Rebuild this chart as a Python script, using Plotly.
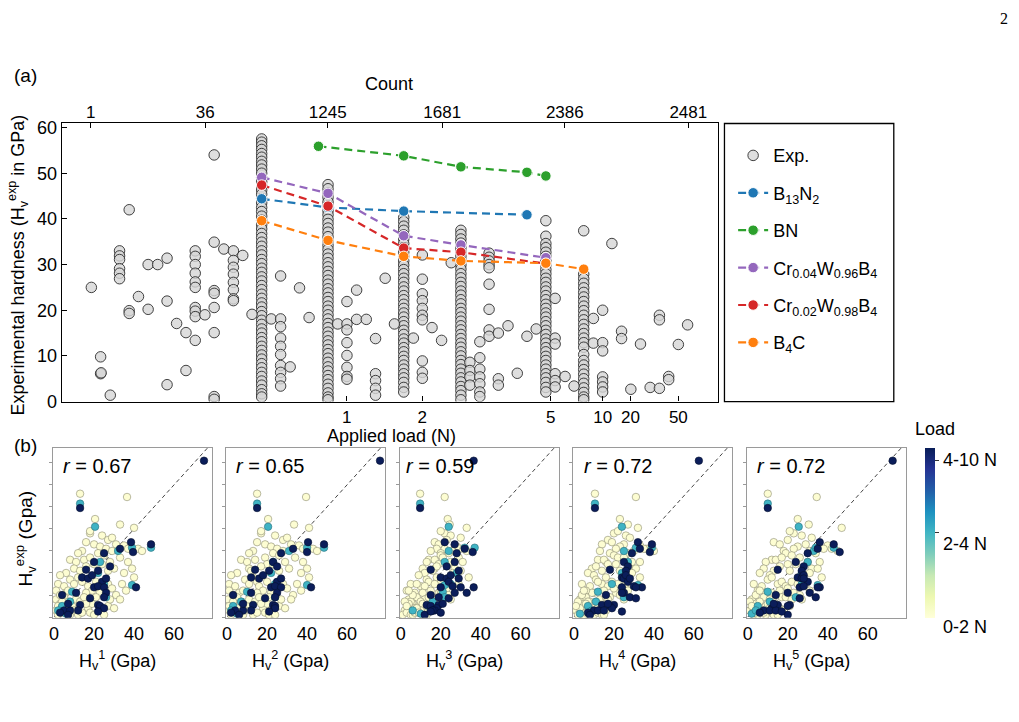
import plotly.graph_objects as go

W, H = 1019, 722
FONT = "Liberation Sans, Arial, Helvetica, sans-serif"


def fx(p):
    return p / W


def fy(p):
    return 1 - p / H


# ======================= (a) data =======================
# position along the rank-scaled applied-load axis
load_tick_pos = [2.86, 3.62, 4.91, 5.43, 5.71, 6.19]
load_tick_text = ["1", "2", "5", "10", "20", "50"]
count_tick_pos = [0.29, 1.44, 2.67, 3.82, 5.05, 6.29]
count_tick_text = ["1", "36", "1245", "1681", "2386", "2481"]

# densely populated load values (columns)
col_pos = [2.007, 2.673, 3.433, 4.007, 4.86, 5.24]
col1_hv = [57.5, 56.8, 56.0, 55.2, 54.3, 53.5, 52.6, 51.8, 50.9, 50.0, 49.0, 48.1, 47.2, 46.3,
           45.4, 44.4, 43.5, 42.5, 41.6, 40.6, 39.7, 38.7, 37.8, 36.8, 35.9, 34.9, 34.0, 33.0,
           32.1, 31.1, 30.2, 29.2, 28.3, 27.3, 26.4, 25.4, 24.5, 23.5, 22.6, 21.6, 20.7, 19.7,
           18.8, 17.8, 16.9, 15.9, 15.0, 14.0, 13.1, 12.1, 11.2, 10.2, 9.3, 8.3, 7.4, 6.4, 5.5,
           4.5, 3.6, 2.6, 1.7, 1.0]
col2_hv = [47.5, 46.6, 45.6, 44.7, 43.7, 42.8, 41.8, 40.9, 39.9, 39.0, 38.0, 37.1, 36.1, 35.2,
           34.2, 33.3, 32.3, 31.4, 30.4, 29.5, 28.5, 27.6, 26.6, 25.7, 24.7, 23.8, 22.8, 21.9,
           20.9, 20.0, 19.0, 18.1, 17.1, 16.2, 15.2, 14.3, 13.3, 12.4, 11.4, 10.5, 9.5, 8.6, 7.6,
           6.7, 5.7, 4.8, 3.8, 2.9, 1.9, 1.0, 0.4]
col3_hv = [40.3, 39.4, 38.4, 37.5, 36.5, 35.6, 34.6, 33.7, 32.7, 31.8, 30.8, 29.9, 28.9, 28.0,
           27.0, 26.1, 25.1, 24.2, 23.2, 22.3, 21.3, 20.4, 19.4, 18.5, 17.5, 16.6, 15.6, 14.7,
           13.7, 12.8, 11.8, 10.9, 9.9, 9.0, 8.0, 7.1, 6.1, 5.2, 4.2, 3.1, 2.1]
col4_hv = [37.5, 36.6, 35.6, 34.7, 33.7, 32.8, 31.8, 30.9, 29.9, 29.0, 28.0, 27.1, 26.1, 25.2,
           24.2, 23.3, 22.3, 21.4, 20.4, 19.5, 18.5, 17.6, 16.6, 15.7, 14.7, 13.8, 12.8, 11.9,
           10.9, 10.0, 9.0, 8.1, 7.1, 6.2, 5.2, 4.3, 3.3, 2.4, 1.4, 0.4]
col5_hv = [39.6, 36.2, 34.6, 33.7, 32.7, 31.8, 30.8, 29.9, 28.9, 28.0, 27.0, 26.1, 25.1, 24.2,
           23.2, 22.3, 21.3, 20.4, 19.4, 18.5, 17.5, 16.6, 15.6, 14.7, 13.7, 12.8, 11.8, 10.9,
           9.9, 9.0, 8.0, 7.1, 6.1, 5.2, 4.2, 3.1, 2.1]
col6_hv = [37.4, 27.9, 26.9, 25.9, 24.9, 23.9, 22.9, 21.9, 20.9, 19.9, 18.9, 17.9, 16.9, 15.9,
           14.9, 13.9, 12.9, 11.9, 10.3, 9.0, 8.0, 7.0, 6.0, 5.0, 4.0, 3.0, 2.0, 1.0, 0.4]

# sparsely populated load values
sparse_pos = [0.297, 0.39, 0.39, 0.395, 0.487,
              0.58, 0.58, 0.58, 0.58, 0.58, 0.58,
              0.677, 0.677, 0.677,
              0.77, 0.867, 0.867, 0.963,
              1.057, 1.057, 1.057,
              1.153, 1.247, 1.247,
              1.34, 1.34, 1.34, 1.34, 1.34, 1.34, 1.34, 1.34, 1.34, 1.34,
              1.437,
              1.53, 1.53, 1.53, 1.53, 1.53, 1.53, 1.53, 1.53,
              1.627,
              1.723, 1.723, 1.723, 1.723, 1.723, 1.723, 1.723, 1.723,
              1.817, 1.91,
              2.103, 2.197, 2.197, 2.197, 2.197, 2.197, 2.197, 2.197, 2.197, 2.197, 2.197,
              2.293, 2.387, 2.483,
              2.77, 2.863, 2.863, 2.863, 2.863, 2.863, 2.863, 2.863, 2.863,
              2.96, 2.96, 3.057, 3.15, 3.15, 3.15, 3.15, 3.15,
              3.247, 3.34,
              3.53, 3.62, 3.62, 3.62, 3.62, 3.62, 3.62, 3.62, 3.62, 3.62, 3.62,
              3.717, 3.813, 3.91,
              4.097, 4.097, 4.097, 4.097,
              4.197, 4.197, 4.197, 4.197, 4.197, 4.197, 4.197,
              4.29, 4.29, 4.29, 4.29, 4.29, 4.29, 4.29, 4.29, 4.29,
              4.383, 4.383, 4.383, 4.48, 4.573, 4.67, 4.763,
              4.953, 4.953, 4.953, 4.953, 4.953, 4.953,
              5.053, 5.143,
              5.337, 5.337, 5.43, 5.43, 5.43, 5.43, 5.43, 5.43, 5.43,
              5.523, 5.62, 5.62, 5.713, 5.81, 5.907, 6.0, 6.0, 6.0, 6.093, 6.093, 6.19, 6.283]
sparse_hv = [25.0, 9.8, 6.1, 6.3, 1.4,
             33.0, 31.9, 31.1, 29.1, 28.1, 26.9,
             42.0, 19.9, 19.3,
             23.0, 30.0, 20.2, 30.0,
             31.4, 22.0, 3.7,
             17.1, 15.1, 6.8,
             33.0, 31.8, 30.0, 28.1, 26.2, 25.0, 20.6, 19.8, 18.6, 13.4,
             19.0,
             54.0, 34.9, 24.3, 23.7, 20.6, 15.1, 1.1, 0.5,
             33.4,
             33.0, 30.9, 29.4, 27.9, 26.1, 24.5, 22.5, 22.1,
             32.0, 19.1,
             18.1, 27.5, 18.1, 16.4, 13.9, 12.1, 10.3, 7.9, 6.4, 5.0, 3.4,
             7.6, 24.9, 18.4,
             17.0, 21.9, 17.0, 15.7, 12.9, 10.1, 7.5, 5.5, 4.9,
             24.4, 18.0, 18.0, 13.8, 6.1, 4.6, 2.9, 1.4,
             27.0, 17.0,
             13.9, 32.1, 26.8, 23.6, 22.1, 20.4, 18.9, 17.9, 8.9, 6.4, 5.1,
             16.2, 13.4, 30.4,
             8.6, 6.8, 5.4, 3.6,
             13.1, 9.6, 7.1, 5.4, 3.9, 2.1, 1.1,
             32.5, 31.6, 30.8, 30.0, 29.3, 25.7, 20.2, 15.7, 14.3,
             15.0, 5.0, 3.6, 16.6, 6.2, 14.3, 15.9,
             22.6, 13.9, 12.6, 6.1, 4.6, 3.2,
             5.5, 3.4,
             18.2, 12.8, 20.0, 12.9, 11.1, 5.4, 4.3, 3.2, 2.1,
             34.6, 15.4, 13.8, 2.7, 12.6, 3.1, 18.9, 17.9, 2.9, 5.5, 4.8, 12.5, 16.8]

# DFT-type predictions of materials
b13n2_pos = [2.007, 2.673, 3.433, 4.67]
b13n2_hv = [44.4, 42.5, 41.7, 40.9]
bn_pos = [2.577, 3.433, 4.007, 4.67, 4.86]
bn_hv = [55.9, 53.8, 51.4, 50.2, 49.4]
cr004_pos = [2.007, 2.673, 3.433, 4.007, 4.86]
cr004_hv = [49.1, 45.6, 36.3, 34.3, 31.5]
cr002_pos = [2.007, 2.673, 3.433, 4.007, 4.86]
cr002_hv = [47.4, 42.8, 33.6, 32.7, 30.2]
b4c_pos = [2.007, 2.673, 3.433, 4.007, 4.86, 5.24]
b4c_hv = [39.6, 35.3, 31.8, 30.8, 30.3, 29.0]

# ======================= (b) data =======================
# experimental hardness (shared by all 5 panels) and load class (0: 0-2 N, 1: 2-4 N, 2: 4-10 N)
hexp = [71, 56, 51.5, 49.5, 54.5, 44.5, 41, 42, 40.5, 38,
        34, 33, 31, 29.5, 29, 25, 23, 21.5, 21, 18,
        17.5, 19, 16, 17.5, 13.5, 14, 13.5, 13.5, 11, 9,
        10, 11, 8.5, 5.5, 5.5, 5, 4, 3, 3, 2,
        1, 3, 6, 2.5, 30, 31.5, 31.5, 25, 20, 15,
        14.5, 11.5, 7, 5, 1.5, 3, 9,
        39, 37, 35, 36, 33, 32.5, 31, 31, 30, 34,
        33, 32, 31, 30, 30, 29, 29, 28, 26, 25,
        26, 27, 24, 24, 25, 22, 27, 25, 22, 18,
        22, 21, 20, 19, 23, 21, 20, 15, 14, 17,
        15, 18, 16, 14, 12, 16, 11, 15, 13, 10,
        15, 12, 11, 11, 12, 8, 8, 6, 9, 7,
        5, 8, 7, 9, 4, 6, 9, 3, 5, 3,
        1, 2, 4, 1, 3, 1, 2, 6, 2, 1,
        1, 8, 4, 7, 5, 10, 12, 2]
load_class = [2, 0, 1, 2, 0, 0, 1, 0, 0, 0,
              2, 2, 2, 2, 2, 2, 2, 2, 2, 2,
              2, 2, 2, 2, 2, 2, 2, 2, 2, 2,
              2, 2, 2, 2, 2, 2, 2, 2, 2, 2,
              2, 2, 2, 2, 1, 1, 1, 1, 1, 1,
              1, 1, 1, 1, 1, 1, 1,
              0, 0, 0, 0, 0, 0, 0, 0, 0, 0,
              0, 0, 0, 0, 0, 0, 0, 0, 0, 0,
              0, 0, 0, 0, 0, 0, 0, 0, 0, 0,
              0, 0, 0, 0, 0, 0, 0, 0, 0, 0,
              0, 0, 0, 0, 0, 0, 0, 0, 0, 0,
              0, 0, 0, 0, 0, 0, 0, 0, 0, 0,
              0, 0, 0, 0, 0, 0, 0, 0, 0, 0,
              0, 0, 0, 0, 0, 0, 0, 0, 0, 0,
              0, 0, 0, 0, 0, 0, 0, 0]
hv1 = [75, 13, 13, 13, 36.5, 20.5, 20.5, 33, 40, 18,
       38.5, 48.5, 33, 39.5, 25, 20, 28, 16, 22, 14,
       17, 19, 24, 26, 20, 22, 25, 41, 26, 25,
       4, 11, 18, 22, 13, 23, 25, 5, 8, 3,
       7, 12, 7, 22, 32, 39, 48.5, 23, 22, 25,
       39, 9, 8, 4, 6, 2, 26,
       18, 24, 27, 29, 31, 35, 37, 42, 44, 16,
       20, 23, 26, 29, 14, 12, 22, 25, 8, 11,
       15, 18, 20, 24, 28, 30, 33, 37, 39, 40,
       10, 13, 6, 3, 16, 27, 35, 2, 5, 8,
       10, 12, 14, 17, 19, 21, 23, 27, 29, 31,
       34, 36, 16, 6, 1, 33, 1, 3, 5, 7,
       9, 11, 13, 15, 17, 19, 21, 23, 27, 1,
       2, 4, 6, 8, 10, 12, 14, 16, 18, 20,
       25, 28, 30, 4, 2, 3, 7, 7]
hv2 = [76.5, 15, 15, 15, 39.5, 20.5, 20.5, 33.5, 41, 17,
       40.5, 48.5, 33, 40, 27, 23, 25, 14, 21, 12,
       16, 18, 25, 27, 22, 24, 27, 42, 25, 24,
       3, 12, 19, 23, 13, 24, 24, 4, 8, 2,
       6, 12, 8, 21, 31, 40, 48.5, 23, 22, 24,
       40, 10, 7, 3, 5, 2, 24,
       17, 24, 28, 30, 32, 36, 38, 43, 45, 15,
       19, 22, 25, 28, 13, 11, 23, 26, 7, 10,
       14, 19, 20, 23, 29, 31, 34, 38, 40, 41,
       11, 12, 5, 2, 17, 26, 37, 1, 4, 9,
       11, 13, 15, 16, 18, 20, 22, 28, 30, 33,
       35, 37, 15, 6, 1, 32, 0.5, 3, 5, 7,
       10, 11, 14, 16, 18, 20, 21, 22, 26, 1,
       2, 4, 5, 8, 9, 13, 15, 17, 19, 21,
       24, 27, 29, 3, 1, 3, 8, 6]
hv3 = [36.5, 9.7, 9.7, 9.7, 22, 23.5, 24, 24.5, 33, 22,
       22, 27, 32, 36, 28, 27, 23, 15, 29, 20,
       23, 25, 24, 29, 20, 26, 30, 36.5, 33, 19,
       15, 27, 24, 19, 13, 15, 18, 16, 17, 20,
       12, 16, 21, 15, 24, 32, 37, 22, 28, 25,
       22, 21, 16, 14, 10, 6, 22,
       20, 25, 23, 30, 21, 27, 22, 30, 33, 17,
       19, 28, 18, 26, 15, 20, 24, 20, 14, 13,
       17, 21, 19, 26, 25, 17, 29, 31, 27, 34,
       11, 16, 12, 9, 18, 30, 26, 5, 10, 13,
       8, 18, 14, 12, 15, 20, 19, 17, 23, 24,
       29, 20, 11, 7, 3, 25, 4, 6, 8, 5,
       9, 12, 10, 14, 12, 11, 16, 10, 13, 2,
       1, 3, 7, 5, 8, 6, 9, 4, 7, 11,
       13, 18, 8, 2, 3, 6, 4, 9]
hv4 = [62.5, 10.5, 10.5, 10.5, 31, 23, 24, 27, 32, 20,
       32, 39, 33, 38, 29, 25, 27, 18, 26, 24,
       25, 26, 27, 28, 24, 30, 34, 31, 25, 28,
       16, 24, 31, 20, 14, 18, 19, 10, 12, 7,
       8, 15, 17, 24, 25, 31, 39, 27, 24, 19,
       32, 12, 11, 7, 3, 9, 25,
       22, 26, 17, 28, 25, 33, 36, 35, 40, 19,
       14, 23, 21, 30, 13, 18, 27, 20, 12, 16,
       15, 22, 17, 21, 29, 28, 25, 33, 31, 33,
       9, 14, 7, 10, 11, 23, 29, 4, 8, 11,
       14, 16, 12, 17, 15, 19, 21, 22, 20, 23,
       26, 27, 10, 9, 6, 25, 3, 5, 6, 8,
       11, 13, 7, 16, 14, 12, 18, 16, 19, 1,
       2, 4, 3, 5, 7, 10, 8, 6, 12, 14,
       15, 17, 12, 2, 1, 4, 5, 6]
hv5 = [72.5, 10, 10, 10, 34.5, 25, 25.5, 30.5, 47, 23,
       36, 43, 35, 46, 30, 24, 28, 15, 27, 25,
       27, 28, 30, 28, 26, 28, 36, 35, 31, 34,
       14, 20, 26, 21, 15, 20, 12, 8, 11, 6,
       20, 14, 13, 17, 33, 34, 43, 30, 27, 27,
       35, 10, 11, 5, 2, 4, 24,
       21, 27, 20, 32, 29, 40, 42, 38, 45, 13,
       16, 25, 23, 31, 18, 19, 34, 22, 12, 9,
       14, 17, 20, 24, 30, 32, 26, 36, 35, 37,
       8, 13, 6, 11, 16, 21, 31, 3, 7, 10,
       15, 12, 17, 19, 16, 22, 23, 25, 20, 26,
       29, 31, 12, 9, 5, 27, 2, 4, 8, 6,
       9, 11, 13, 17, 16, 14, 19, 18, 21, 1,
       3, 6, 3, 5, 7, 9, 12, 10, 8, 13,
       15, 22, 11, 1, 2, 4, 6, 4]
r_values = ["0.67", "0.65", "0.59", "0.72", "0.72"]
panel_models = ["1", "2", "3", "4", "5"]
diag = [0, 85]

# ======================= figure =======================
fig = go.Figure()

# --- panel (a)
exp_x, exp_y = [], []
for p, col in zip(col_pos, [col1_hv, col2_hv, col3_hv, col4_hv, col5_hv, col6_hv]):
    exp_x += [p] * len(col)
    exp_y += col
exp_x += sparse_pos
exp_y += sparse_hv

fig.add_trace(go.Scatter(
    x=exp_x, y=exp_y, mode="markers", name="Exp.", legendgroup="exp",
    marker=dict(size=10.5, color="rgba(214,214,214,0.8)",
                line=dict(color="rgba(45,45,45,0.9)", width=1)),
    hoverinfo="skip"))

series = [
    ("B<sub>13</sub>N<sub>2</sub>", b13n2_pos, b13n2_hv, "#1f77b4"),
    ("BN", bn_pos, bn_hv, "#2ca02c"),
    ("Cr<sub>0.04</sub>W<sub>0.96</sub>B<sub>4</sub>", cr004_pos, cr004_hv, "#9467bd"),
    ("Cr<sub>0.02</sub>W<sub>0.98</sub>B<sub>4</sub>", cr002_pos, cr002_hv, "#d62728"),
    ("B<sub>4</sub>C", b4c_pos, b4c_hv, "#ff7f0e"),
]
for name, xs, ys, c in series:
    fig.add_trace(go.Scatter(
        x=xs, y=ys, mode="lines+markers", name=name, legendgroup=name,
        line=dict(color=c, width=2.2, dash="8px,5px"),
        marker=dict(size=10.5, color=c, line=dict(color="white", width=1)),
        hoverinfo="skip"))

# dummy trace for the top "Count" axis
fig.add_trace(go.Scatter(x=count_tick_pos, y=[None] * len(count_tick_pos), xaxis="x2", yaxis="y",
                         showlegend=False, hoverinfo="skip", mode="markers"))

# --- panels (b)
class_color = {0: "#fdfdd2", 1: "#3fb3c4", 2: "#0b1d5a"}
class_edge = {0: "#8c8c72", 1: "#2a6f7a", 2: "#05102f"}
hv_all = [hv1, hv2, hv3, hv4, hv5]
for i, hv in enumerate(hv_all):
    xa, ya = f"x{i + 3}", f"y{i + 3}"
    fig.add_trace(go.Scatter(x=diag, y=diag, mode="lines", xaxis=xa, yaxis=ya,
                             line=dict(color="#444", width=1, dash="4px,3px"),
                             showlegend=False, hoverinfo="skip"))
    for cls in (0, 1, 2):
        xs = [hv[k] for k in range(len(hexp)) if load_class[k] == cls]
        ys = [hexp[k] for k in range(len(hexp)) if load_class[k] == cls]
        fig.add_trace(go.Scatter(
            x=xs, y=ys, mode="markers", xaxis=xa, yaxis=ya, showlegend=False,
            marker=dict(size=7.5, color=class_color[cls], line=dict(color=class_edge[cls], width=0.6)),
            hoverinfo="skip"))

ylgnbu = [[0.0, "#ffffd9"], [0.125, "#edf8b1"], [0.25, "#c7e9b4"], [0.375, "#7fcdbb"],
          [0.5, "#41b6c4"], [0.625, "#1d91c0"], [0.75, "#225ea8"], [0.875, "#253494"],
          [1.0, "#081d58"]]
fig.add_trace(go.Scatter(
    x=[None], y=[None], mode="markers", xaxis="x7", yaxis="y7", showlegend=False,
    marker=dict(color=[0], cmin=0, cmax=1, colorscale=ylgnbu, showscale=True,
                colorbar=dict(x=fx(925), xanchor="left", xpad=0, ypad=0, thickness=10,
                              len=173.4 / H, lenmode="fraction", y=fy(539), yanchor="middle",
                              outlinewidth=0, tickvals=[0.5, 0.927], ticktext=["", ""],
                              ticks="outside", ticklen=4, tickcolor="#333")),
    hoverinfo="skip"))

# ======================= layout =======================
axis_font = dict(family=FONT, size=17, color="black")
layout = dict(
    width=W, height=H, margin=dict(l=0, r=0, t=0, b=0),
    paper_bgcolor="white", plot_bgcolor="white",
    font=dict(family=FONT, size=17, color="black"),
    xaxis=dict(domain=[fx(58), fx(716.5)], range=[0, 6.585], anchor="y",
               tickvals=load_tick_pos, ticktext=load_tick_text, ticks="inside", ticklen=5,
               tickcolor="black", showline=True, mirror=True, linecolor="black", linewidth=1.3,
               showgrid=False, zeroline=False, tickfont=axis_font),
    xaxis2=dict(overlaying="x", side="top", anchor="y", range=[0, 6.585],
                tickvals=count_tick_pos, ticktext=count_tick_text, ticks="inside", ticklen=5,
                tickcolor="black", showline=False, showgrid=False, zeroline=False,
                tickfont=axis_font),
    yaxis=dict(domain=[fy(405), fy(120)], range=[0, 61.1], anchor="x",
               tickvals=[0, 10, 20, 30, 40, 50, 60], ticks="inside", ticklen=5, tickcolor="black",
               showline=True, mirror=True, linecolor="black", linewidth=1.3, showgrid=False,
               zeroline=False, tickfont=dict(family=FONT, size=18, color="black")),
    legend=dict(x=fx(732), y=fy(135), xanchor="left", yanchor="top", bgcolor="rgba(0,0,0,0)",
                borderwidth=0, font=dict(family=FONT, size=18, color="black"),
                tracegroupgap=11, itemwidth=30),
)

panel_left = [49.3, 223.0, 397.3, 571.2, 745.7]
panel_w = 159.5
for i, left in enumerate(panel_left):
    layout[f"xaxis{i + 3}"] = dict(
        domain=[fx(left), fx(left + panel_w)], range=[-0.5, 79], anchor=f"y{i + 3}",
        tickvals=[0, 20, 40, 60], ticks="", showline=True, mirror=True, linecolor="#9a9a9a",
        linewidth=1, showgrid=False, zeroline=False,
        tickfont=dict(family=FONT, size=18, color="black"))
    layout[f"yaxis{i + 3}"] = dict(
        domain=[fy(625.7), fy(452.3)], range=[-0.3, 76.8], anchor=f"x{i + 3}",
        tickvals=[0, 10, 20, 30, 40, 50, 60, 70], ticks="outside", ticklen=3, tickcolor="#9a9a9a",
        showticklabels=False, showline=True, mirror=True, linecolor="#9a9a9a", linewidth=1,
        showgrid=False, zeroline=False)

fig.update_layout(**layout)

# legend frame
fig.add_shape(type="rect", xref="paper", yref="paper", x0=fx(723.3), x1=fx(893.3),
              y0=fy(405), y1=fy(121), line=dict(color="black", width=1.3))


def ann(text, x, y, size=18, xanchor="center", angle=0, family=FONT):
    fig.add_annotation(text=text, x=fx(x), y=fy(y), xref="paper", yref="paper",
                       xanchor=xanchor, yanchor="middle", showarrow=False, textangle=angle,
                       font=dict(family=family, size=size, color="black"))


ann("(a)", 8, 72, 19, "left")
ann("(b)", 8, 450, 19, "left")
ann("2", 1004, 14, 16, "center", family="Liberation Serif, Times New Roman, serif")
ann("Count", 387, 81, 18)
ann("Applied load (N)", 389, 440, 18)
ann("Experimental hardness (H<sub>v</sub><sup>exp</sup> in GPa)", 14, 265, 18, angle=-90)
ann("H<sub>v</sub><sup>exp</sup> (Gpa)", 22, 545, 19, angle=-90)

r_offset = [8, 8, 4, 9.5, 8.5]
for i, left in enumerate(panel_left):
    ann(f"<i>r</i> = {r_values[i]}", left + r_offset[i], 471, 20, "left")
    ann(f"H<sub>v</sub><sup>{panel_models[i]}</sup> (Gpa)", left + 65, 669, 18)

ann("Load", 935, 433, 18)
ann("4-10 N", 941, 465, 18, "left")
ann("2-4 N", 941, 550, 18, "left")
ann("0-2 N", 941, 635, 18, "left")

fig.write_html("out.html")
